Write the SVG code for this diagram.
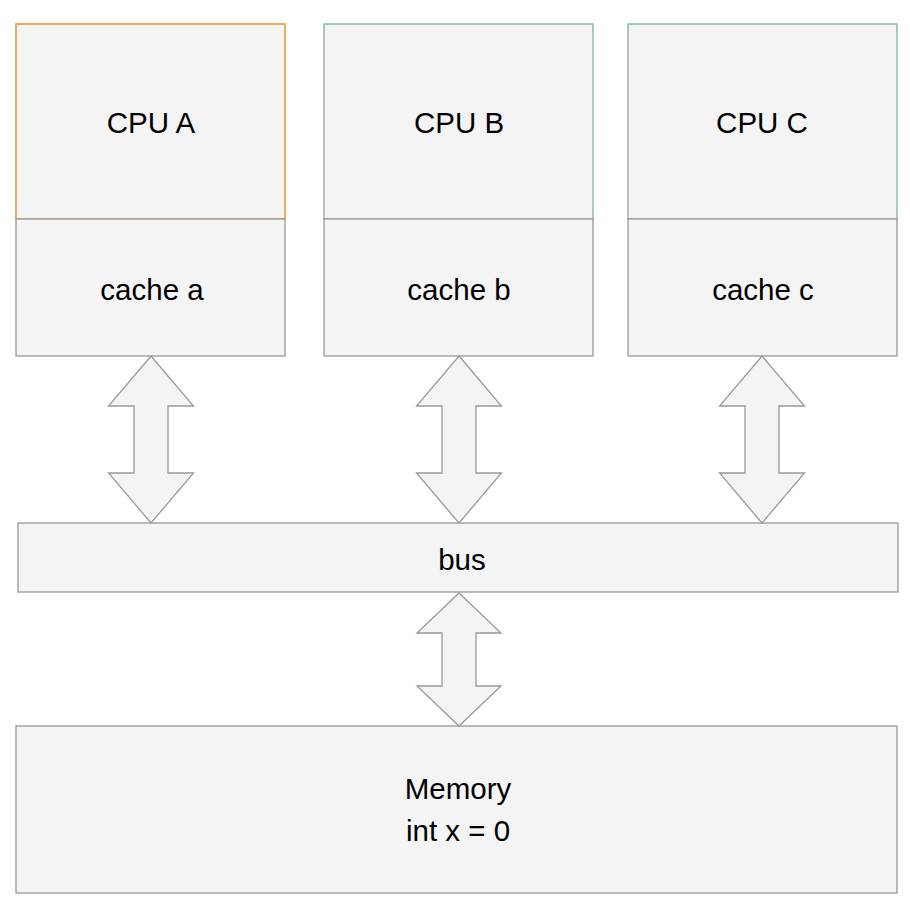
<svg xmlns="http://www.w3.org/2000/svg" width="910" height="914" viewBox="0 0 910 914">
<style>
.box{fill:#f4f4f5;stroke:#999;stroke-width:1.3}
.cpuA{fill:#f4f4f5;stroke:#f0a24a;stroke-width:1.8}
.cpuBC{fill:#f4f4f5;stroke:#7faf9c;stroke-width:1.3}
.arr{fill:#f4f4f5;stroke:#999;stroke-width:1.3;stroke-linejoin:miter}
text{font-family:"Liberation Sans",Arial,sans-serif;font-size:29.5px;fill:#000;text-anchor:middle}
</style>
<rect width="910" height="914" fill="#fff"/>
<g id="cpuA">
<rect class="cpuA" x="16" y="24" width="269" height="195"/>
<text x="151" y="133">CPU A</text>
</g>
<g id="cacheA">
<rect class="box" x="16" y="219" width="269" height="137"/>
<text x="152" y="300">cache a</text>
</g>
<g id="cpuB">
<rect class="cpuBC" x="324" y="24" width="269" height="195"/>
<text x="459" y="133">CPU B</text>
</g>
<g id="cacheB">
<rect class="box" x="324" y="219" width="269" height="137"/>
<text x="459" y="300">cache b</text>
</g>
<g id="cpuC">
<rect class="cpuBC" x="628" y="24" width="269" height="195"/>
<text x="762" y="133">CPU C</text>
</g>
<g id="cacheC">
<rect class="box" x="628" y="219" width="269" height="137"/>
<text x="763" y="300">cache c</text>
</g>
<g id="bus">
<rect class="box" x="18" y="523" width="880" height="69"/>
<text x="462" y="570">bus</text>
</g>
<g id="memory">
<rect class="box" x="16" y="726" width="881" height="167"/>
<text x="458" y="799">Memory</text>
<text x="458" y="841">int x = 0</text>
</g>
<g id="connectors">
<polygon class="arr" points="151,356 193.5,406 168,406 168,473 193.5,473 151,523 108.5,473 134,473 134,406 108.5,406"/>
<polygon class="arr" points="459,356 501.5,406 476,406 476,473 501.5,473 459,523 416.5,473 442,473 442,406 416.5,406"/>
<polygon class="arr" points="762,356 804.5,406 779,406 779,473 804.5,473 762,523 719.5,473 745,473 745,406 719.5,406"/>
<polygon class="arr" points="459,593 501,633 476,633 476,686 501,686 459,726 417,686 442,686 442,633 417,633"/>
</g>
</svg>
